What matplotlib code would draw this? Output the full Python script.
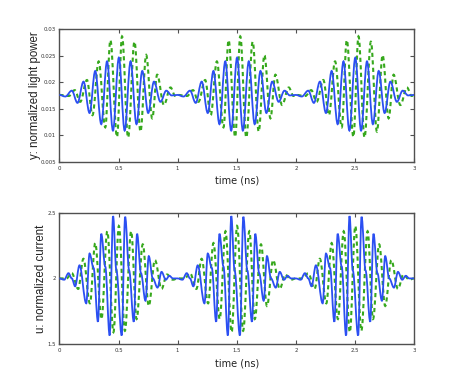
import matplotlib
matplotlib.use("Agg")
import matplotlib.pyplot as plt
from matplotlib.path import Path
from matplotlib.patches import PathPatch

# bursts repeat every 1 ns, start times of the bursts
burst_starts = [0.0, 1.0, 2.0]

# top panel, extrema of one burst (time in ns from burst start, value)
light_blue_t = [0.0, 0.05, 0.105, 0.153, 0.204, 0.255, 0.303, 0.354, 0.403, 0.453, 0.503,
                0.552, 0.602, 0.652, 0.701, 0.751, 0.800, 0.855, 0.904, 0.95]
light_blue_v = [0.0176, 0.0173, 0.0184, 0.0161, 0.0201, 0.0142, 0.0221, 0.0121, 0.0239, 0.0109, 0.0246,
                0.0109, 0.0239, 0.0121, 0.0221, 0.0142, 0.0201, 0.0163, 0.0184, 0.0175]
light_green_t = [0.0, 0.08, 0.13, 0.176, 0.233, 0.28, 0.332, 0.388, 0.431, 0.487, 0.53,
                 0.581, 0.635, 0.686, 0.734, 0.785, 0.827, 0.884, 0.94, 0.98]
light_green_v = [0.0176, 0.0174, 0.0185, 0.0163, 0.0204, 0.0138, 0.0239, 0.0115, 0.0279, 0.0097, 0.0286,
                 0.0096, 0.0276, 0.0107, 0.0251, 0.0132, 0.0214, 0.0157, 0.0190, 0.0174]

# bottom panel, extrema of one burst
cur_blue_t = [0.0, 0.04, 0.077, 0.105, 0.133, 0.17, 0.227, 0.255, 0.289, 0.326, 0.354, 0.388,
              0.425, 0.454, 0.482, 0.527, 0.556, 0.59, 0.629, 0.657, 0.69, 0.728, 0.756,
              0.79, 0.83, 0.864, 0.9, 0.93, 0.96]
cur_blue_v = [2.0, 1.99, 2.04, 2.0, 1.94, 2.10, 1.81, 2.19, 2.08, 1.67, 2.34, 2.09,
              1.565, 2.475, 2.06, 1.565, 2.47, 2.06, 1.67, 2.34, 2.04, 1.83, 2.17,
              2.0, 1.93, 2.05, 1.99, 2.02, 2.0]
cur_green_t = [0.0, 0.06, 0.105, 0.159, 0.203, 0.258, 0.303, 0.356, 0.405, 0.457, 0.503,
               0.554, 0.607, 0.653, 0.705, 0.756, 0.808, 0.864, 0.91, 0.96]
cur_green_v = [2.0, 2.0, 2.04, 1.92, 2.15, 1.81, 2.27, 1.69, 2.36, 1.59, 2.40,
               1.60, 2.36, 1.69, 2.26, 1.79, 2.14, 1.92, 2.03, 1.99]

top_yticks = [0.005, 0.01, 0.015, 0.02, 0.025, 0.03]
top_ylabels = ["0.005", "0.01", "0.015", "0.02", "0.025", "0.03"]
bot_yticks = [1.5, 2, 2.5]
bot_ylabels = ["1.5", "2", "2.5"]
xticks = [0, 0.5, 1, 1.5, 2, 2.5, 3]
xlabels = ["0", "0.5", "1", "1.5", "2", "2.5", "3"]

BLUE = "#2b4ff2"
GREEN = "#36a81c"
SPINE = "#505050"


def smooth_curve(ax, t, v, **kw):
    # join extrema with bezier segments that are flat at each extremum
    ts, vs = [], []
    for s in burst_starts:
        ts += [s + x for x in t]
        vs += list(v)
    ts.append(burst_starts[-1] + 1.0)
    vs.append(v[0])
    verts = [(ts[0], vs[0])]
    codes = [Path.MOVETO]
    k = 0.36
    for i in range(1, len(ts)):
        dt = ts[i] - ts[i - 1]
        verts += [(ts[i - 1] + k * dt, vs[i - 1]), (ts[i] - k * dt, vs[i]), (ts[i], vs[i])]
        codes += [Path.CURVE4] * 3
    patch = PathPatch(Path(verts, codes), fill=False, capstyle="butt", **kw)
    ax.add_patch(patch)


def style_axes(ax, yticks, ylabels):
    ax.set_xlim(0, 3)
    ax.set_xticks(xticks)
    ax.set_xticklabels(xlabels)
    ax.set_yticks(yticks)
    ax.set_yticklabels(ylabels)
    ax.tick_params(direction="in", length=3, width=0.8, colors=SPINE, labelsize=3.9,
                   top=True, right=True, pad=2.6)
    for lab in ax.get_xticklabels() + ax.get_yticklabels():
        lab.set_fontfamily("Liberation Sans Narrow")
        lab.set_color("#333333")
    for sp in ax.spines.values():
        sp.set_color(SPINE)
        sp.set_linewidth(1.0)


fig = plt.figure(figsize=(4.57, 3.88), dpi=100)

ax1 = fig.add_axes([0.130, 0.5825, 0.776, 0.343])
smooth_curve(ax1, light_green_t, light_green_v, edgecolor=GREEN, linewidth=1.5,
             linestyle=(0, (2.0, 1.6)), zorder=2)
smooth_curve(ax1, light_blue_t, light_blue_v, edgecolor=BLUE, linewidth=1.3, zorder=3)
ax1.set_ylim(0.005, 0.03)
style_axes(ax1, top_yticks, top_ylabels)
ax1.set_ylabel("y: normalized light power", fontsize=8.3, family="Liberation Sans", color="#222222")
ax1.yaxis.set_label_coords(-0.052, 0.5)
ax1.set_xlabel("time (ns)", fontsize=7, family="Liberation Sans Narrow", color="#222222")
ax1.xaxis.set_label_coords(0.5, -0.098)

ax2 = fig.add_axes([0.130, 0.1134, 0.776, 0.338])
smooth_curve(ax2, cur_green_t, cur_green_v, edgecolor=GREEN, linewidth=1.5,
             linestyle=(0, (2.0, 1.6)), zorder=2)
smooth_curve(ax2, cur_blue_t, cur_blue_v, edgecolor=BLUE, linewidth=1.3, zorder=3)
ax2.set_ylim(1.5, 2.5)
style_axes(ax2, bot_yticks, bot_ylabels)
ax2.set_ylabel("u: normalized current", fontsize=8.3, family="Liberation Sans", color="#222222")
ax2.yaxis.set_label_coords(-0.034, 0.5)
ax2.set_xlabel("time (ns)", fontsize=7, family="Liberation Sans Narrow", color="#222222")
ax2.xaxis.set_label_coords(0.5, -0.109)

fig.savefig("out.png", dpi=100)
